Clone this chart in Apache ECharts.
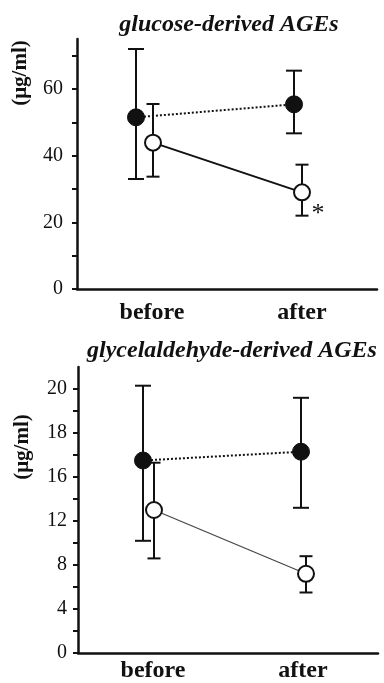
<!DOCTYPE html>
<html><head><meta charset="utf-8">
<script src="https://cdn.jsdelivr.net/npm/echarts@6/dist/echarts.min.js"></script>
<style>html,body{margin:0;padding:0;background:#fff}#c{width:384px;height:683px}</style>
</head><body><div id="c"></div>
<script>
// ---- data ----
const categories = ['before', 'after'];
const titles = ['glucose-derived AGEs', 'glycelaldehyde-derived AGEs'];
const yAxisName = '(\u03bcg/ml)';

// top panel: glucose-derived AGEs
const glucoseFilledMean = [51.5, 55.4];
const glucoseFilledLow  = [33.0, 46.7];
const glucoseFilledHigh = [72.0, 65.5];
const glucoseOpenMean   = [43.9, 29.0];
const glucoseOpenLow    = [33.7, 22.0];
const glucoseOpenHigh   = [55.5, 37.3];
const glucoseOpenMarks  = ['', '*'];
const glucoseTickValues = [0, 20, 40, 60];
const glucoseTickLabels = ['0', '20', '40', '60'];
const glucoseTickMarks  = [0, 10, 20, 30, 40, 50, 60, 70];

// bottom panel: glycelaldehyde-derived AGEs (axis units: 4 per labelled step)
const glyFilledMean = [17.5, 18.3];
const glyFilledLow  = [10.2, 13.2];
const glyFilledHigh = [24.3, 23.2];
const glyOpenMean   = [13.0, 7.2];
const glyOpenLow    = [8.6, 5.5];
const glyOpenHigh   = [17.3, 8.8];
const glyTickValues = [0, 4, 8, 12, 16, 20, 24];
const glyTickLabels = ['0', '4', '8', '12', '16', '18', '20'];
const glyTickMarks  = [0, 2, 4, 6, 8, 10, 12, 14, 16, 18, 20, 22, 24];

// ---- styles ----
const INK = '#111';
const SERIF = '"Liberation Serif", "DejaVu Serif", serif';

function errSeries(gi, mean, low, high, marks, st) {
  const data = mean.map((m, i) => [i, m, low[i], high[i]]);
  return {
    type: 'custom', xAxisIndex: gi, yAxisIndex: gi, z: st.z,
    data: data,
    renderItem: function (params, api) {
      const i = api.value(0);
      const p = api.coord([i, api.value(1)]);
      const lo = api.coord([i, api.value(2)]);
      const hi = api.coord([i, api.value(3)]);
      const x = p[0] + st.dodge[i];
      const hw = st.cap / 2;
      const ch = [];
      if (i > 0) {
        const q = api.coord([i - 1, mean[i - 1]]);
        ch.push({ type: 'line', z2: 0,
          shape: { x1: q[0] + st.dodge[i - 1], y1: q[1], x2: x, y2: p[1] },
          style: { stroke: st.lineColor, lineWidth: st.lineWidth, lineDash: st.lineDash } });
      }
      const ls = { stroke: INK, lineWidth: st.barWidth };
      ch.push({ type: 'line', z2: 2, shape: { x1: x, y1: hi[1], x2: x, y2: lo[1] }, style: ls });
      ch.push({ type: 'line', z2: 2, shape: { x1: x - hw, y1: hi[1], x2: x + hw, y2: hi[1] }, style: ls });
      ch.push({ type: 'line', z2: 2, shape: { x1: x - hw, y1: lo[1], x2: x + hw, y2: lo[1] }, style: ls });
      ch.push({ type: 'circle', z2: 10, shape: { cx: x, cy: p[1], r: st.r },
        style: { fill: st.fill, stroke: INK, lineWidth: st.stroke } });
      if (marks && marks[i]) {
        ch.push({ type: 'text', z2: 10, x: x + 16, y: p[1] + 22,
          style: { text: marks[i], font: '26px ' + SERIF, fill: INK, align: 'center', verticalAlign: 'middle' } });
      }
      return { type: 'group', children: ch };
    }
  };
}

const filledStyleTop = { z: 2, dodge: [-16, -8], cap: 16, barWidth: 2, r: 8.5, fill: INK, stroke: 1,
  lineColor: INK, lineWidth: 2, lineDash: [2, 2] };
const openStyleTop = { z: 3, dodge: [1, 0], cap: 13, barWidth: 2, r: 8, fill: '#fff', stroke: 2,
  lineColor: INK, lineWidth: 2, lineDash: null };
const filledStyleBot = { z: 2, dodge: [-10, -2], cap: 16, barWidth: 2, r: 8.5, fill: INK, stroke: 1,
  lineColor: INK, lineWidth: 2, lineDash: [2, 2] };
const openStyleBot = { z: 3, dodge: [1, 3], cap: 13, barWidth: 2, r: 8, fill: '#fff', stroke: 2,
  lineColor: '#444', lineWidth: 1.2, lineDash: null };

function xAx(gi, margin) {
  return {
    type: 'value', gridIndex: gi, min: -0.5, max: 1.5,
    axisLine: { show: true, onZero: false, lineStyle: { color: INK, width: 2.5 } },
    axisTick: { show: false }, splitLine: { show: false },
    axisLabel: { customValues: [0, 1], formatter: v => categories[Math.round(v)],
      fontFamily: SERIF, fontWeight: 'bold', fontSize: 24, color: INK, margin: margin }
  };
}
function yAx(gi, max, tickVals, tickLabels, tickMarks, margin) {
  return {
    type: 'value', gridIndex: gi, min: 0, max: max,
    axisLine: { show: true, onZero: false, lineStyle: { color: INK, width: 2.5 } },
    axisTick: { show: true, customValues: tickMarks, length: 5, lineStyle: { color: INK, width: 2 } },
    splitLine: { show: false },
    axisLabel: { customValues: tickVals, formatter: v => tickLabels[tickVals.indexOf(v)],
      fontFamily: SERIF, fontSize: 20, color: INK, margin: margin }
  };
}

const chart = echarts.init(document.getElementById('c'));
chart.setOption({
  animation: false,
  backgroundColor: '#fff',
  title: [
    { text: titles[0], left: 224, top: 8, textAlign: 'center',
      textStyle: { fontFamily: SERIF, fontStyle: 'italic', fontWeight: 'bold', fontSize: 24, color: INK } },
    { text: titles[1], left: 227, top: 334, textAlign: 'center',
      textStyle: { fontFamily: SERIF, fontStyle: 'italic', fontWeight: 'bold', fontSize: 24, color: INK } }
  ],
  graphic: [
    { type: 'text', x: 21, y: 73, rotation: Math.PI / 2,
      style: { text: yAxisName, font: 'bold 21px ' + SERIF, fill: INK, align: 'center', verticalAlign: 'middle' } },
    { type: 'text', x: 23, y: 447, rotation: Math.PI / 2,
      style: { text: yAxisName, font: 'bold 21px ' + SERIF, fill: INK, align: 'center', verticalAlign: 'middle' } }
  ],
  grid: [
    { left: 77, top: 39, width: 300, height: 250 },
    { left: 78, top: 367, width: 300, height: 286 }
  ],
  xAxis: [xAx(0, 12), xAx(1, 6)],
  yAxis: [
    yAx(0, 75, glucoseTickValues, glucoseTickLabels, glucoseTickMarks, 14),
    yAx(1, 26, glyTickValues, glyTickLabels, glyTickMarks, 11)
  ],
  series: [
    errSeries(0, glucoseFilledMean, glucoseFilledLow, glucoseFilledHigh, null, filledStyleTop),
    errSeries(0, glucoseOpenMean, glucoseOpenLow, glucoseOpenHigh, glucoseOpenMarks, openStyleTop),
    errSeries(1, glyFilledMean, glyFilledLow, glyFilledHigh, null, filledStyleBot),
    errSeries(1, glyOpenMean, glyOpenLow, glyOpenHigh, null, openStyleBot)
  ]
});
</script></body></html>
